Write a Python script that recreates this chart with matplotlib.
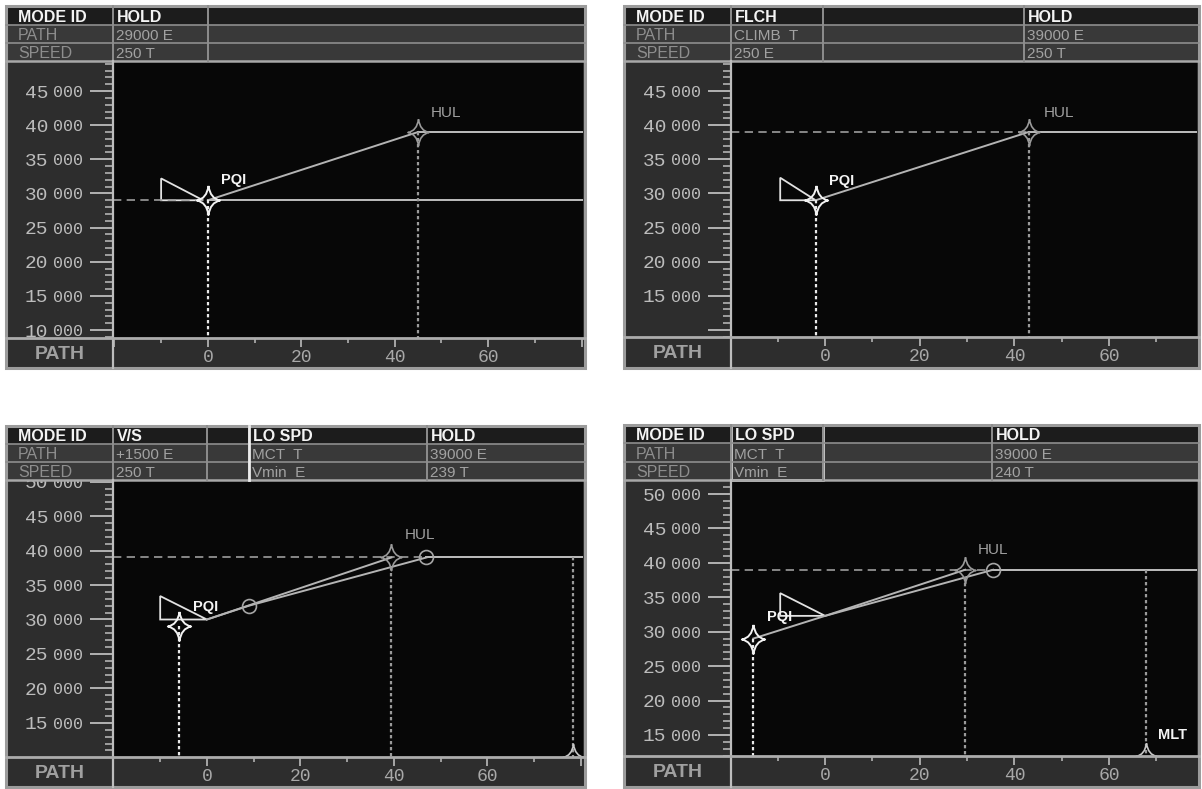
import matplotlib
matplotlib.use("Agg")
import matplotlib.pyplot as plt
from matplotlib.patches import Rectangle
from matplotlib.path import Path
from matplotlib.ticker import MultipleLocator

plt.rcParams["font.family"] = ["Liberation Mono", "DejaVu Sans Mono"]

W, H = 1202, 789

ROW_NAMES = ["MODE ID", "PATH", "SPEED"]
X_MAJOR = [-20, 0, 20, 40, 60, 80]
X_LABELS = ["", "0", "20", "40", "60", ""]
Y_MAJOR = [10000, 15000, 20000, 25000, 30000, 35000, 40000, 45000, 50000]

# top left display: HOLD
A_HEAD = [["HOLD", "29000 E", "250 T"], ["", "", ""]]
A_XLIM = [-20.3, 80.3]
A_YLIM = [8830, 49400]
A_YLAB = [10000, 15000, 20000, 25000, 30000, 35000, 40000, 45000]
A_PQI = [0, 29000]
A_HUL = [45, 39000]
A_WEDGE_X = [-10, -10, -1]
A_WEDGE_Y = [32200, 29000, 29000]
A_PATHS = [[[0, 45], [29000, 39000]]]
A_DASH = [[-1, 29000]]
A_LEVEL = [[0, 29000], [45, 39000]]
A_DROPS = [[0, 29000], [45, 39000]]
A_CIRCLES = [[], []]
A_CUSPS = []
A_TEXT = [["PQI", 2.8, 31900], ["HUL", 47.7, 41800]]

# top right display: FLCH -> HOLD
B_HEAD = [["FLCH", "CLIMB  T", "250 E"], ["", "", ""], ["HOLD", "39000 E", "250 T"]]
B_XLIM = [-19.9, 78.6]
B_YLIM = [8970, 49400]
B_YLAB = [15000, 20000, 25000, 30000, 35000, 40000, 45000, 50000]
B_PQI = [-2, 29000]
B_HUL = [43, 39000]
B_WEDGE_X = [-9.5, -9.5, -2]
B_WEDGE_Y = [32300, 29000, 29000]
B_PATHS = [[[-2, 43], [29000, 39000]]]
B_DASH = [[43, 39000]]
B_LEVEL = [[43, 39000]]
B_DROPS = [[-2, 29000], [43, 39000]]
B_CIRCLES = [[], []]
B_CUSPS = []
B_TEXT = [["PQI", 0.8, 31760], ["HUL", 46.3, 41800]]

# bottom left display: V/S, LO SPD, HOLD
C_HEAD = [["V/S", "+1500 E", "250 T"], ["", "", ""],
          ["LO SPD", "MCT  T", "Vmin  E"], ["HOLD", "39000 E", "239 T"]]
C_XLIM = [-20.1, 80.5]
C_YLIM = [10050, 50240]
C_YLAB = [15000, 20000, 25000, 30000, 35000, 40000, 45000, 50000]
C_PQI = [-6, 29000]
C_HUL = [39.5, 39000]
C_WEDGE_X = [-10, -10, 0]
C_WEDGE_Y = [33400, 30000, 30000]
C_PATHS = [[[0, 39.5], [30000, 39000]], [[0, 9, 47], [30000, 32000, 39000]]]
C_DASH = [[47, 39000]]
C_LEVEL = [[47, 39000]]
C_DROPS = [[-6, 29000], [39.5, 37600], [78.4, 39000]]
C_CIRCLES = [[9, 47], [32000, 39000]]
C_CUSPS = [78.4]
C_TEXT = [["PQI", -3.0, 31750], ["HUL", 42.4, 42200]]

# bottom right display: LO SPD, HOLD
D_HEAD = [["LO SPD", "MCT  T", "Vmin  E"], ["", "", ""], ["HOLD", "39000 E", "240 T"]]
D_XLIM = [-19.9, 78.6]
D_YLIM = [11940, 52040]
D_YLAB = [15000, 20000, 25000, 30000, 35000, 40000, 45000, 50000]
D_PQI = [-15.2, 29000]
D_HUL = [29.6, 39000]
D_WEDGE_X = [-9.5, -9.5, 0]
D_WEDGE_Y = [35600, 32300, 32300]
D_PATHS = [[[-15.2, 0, 29.6], [29000, 32300, 39000]], [[0, 35.5], [32300, 39000]]]
D_DASH = [[35.5, 39000]]
D_LEVEL = [[35.5, 39000]]
D_DROPS = [[-15.2, 29000], [29.6, 37900], [67.9, 39000]]
D_CIRCLES = [[35.5], [39000]]
D_CUSPS = [67.9]
D_TEXT = [["PQI", -12.3, 32200], ["HUL", 32.3, 41900], ["MLT", 70.4, 15000]]

# screen geometry in pixels (left, right, top, bottom)
LAYOUT = [
    dict(box=(6, 585, 6, 368), rows=(25, 43, 61), plot=(113, 338), cols=[113, 208], hl=None),
    dict(box=(624, 1199, 6, 368), rows=(25, 43, 61), plot=(731, 337), cols=[731, 823, 1024], hl=None),
    dict(box=(6, 585, 426, 787), rows=(444, 462, 480), plot=(113, 757), cols=[113, 207, 249, 427], hl="line"),
    dict(box=(624, 1199, 425, 787), rows=(443, 462, 480), plot=(731, 756), cols=[731, 823, 992], hl="box"),
]

PANELS = [
    dict(head=A_HEAD, xlim=A_XLIM, ylim=A_YLIM, ylab=A_YLAB, pqi=A_PQI, hul=A_HUL,
         wx=A_WEDGE_X, wy=A_WEDGE_Y, paths=A_PATHS, dash=A_DASH, level=A_LEVEL,
         drops=A_DROPS, circ=A_CIRCLES, cusps=A_CUSPS, text=A_TEXT),
    dict(head=B_HEAD, xlim=B_XLIM, ylim=B_YLIM, ylab=B_YLAB, pqi=B_PQI, hul=B_HUL,
         wx=B_WEDGE_X, wy=B_WEDGE_Y, paths=B_PATHS, dash=B_DASH, level=B_LEVEL,
         drops=B_DROPS, circ=B_CIRCLES, cusps=B_CUSPS, text=B_TEXT),
    dict(head=C_HEAD, xlim=C_XLIM, ylim=C_YLIM, ylab=C_YLAB, pqi=C_PQI, hul=C_HUL,
         wx=C_WEDGE_X, wy=C_WEDGE_Y, paths=C_PATHS, dash=C_DASH, level=C_LEVEL,
         drops=C_DROPS, circ=C_CIRCLES, cusps=C_CUSPS, text=C_TEXT),
    dict(head=D_HEAD, xlim=D_XLIM, ylim=D_YLIM, ylab=D_YLAB, pqi=D_PQI, hul=D_HUL,
         wx=D_WEDGE_X, wy=D_WEDGE_Y, paths=D_PATHS, dash=D_DASH, level=D_LEVEL,
         drops=D_DROPS, circ=D_CIRCLES, cusps=D_CUSPS, text=D_TEXT),
]

SANS = "Liberation Sans"
GRID = "#8e8e8e"

# four pointed waypoint star
STAR = Path([(0, 1), (0.12, 0.12), (0.8, 0), (0.12, -0.12), (0, -1),
             (-0.12, -0.12), (-0.8, 0), (-0.12, 0.12), (0, 1)],
            [Path.MOVETO] + [Path.CURVE3] * 8)


def draw_plot(fig, lay, d):
    L, R, T, B = lay["box"]
    r3 = lay["rows"][2]
    pl, pb = lay["plot"]
    ax = fig.add_axes([pl / W, 1 - pb / H, (R - 2 - pl) / W, (pb - r3) / H], zorder=1)
    ax.set_facecolor("#070707")
    for s in ax.spines.values():
        s.set_visible(False)

    ax.set_xticks(X_MAJOR, labels=X_LABELS)
    ax.xaxis.set_minor_locator(MultipleLocator(10))
    ax.tick_params(axis="x", which="major", direction="out", length=6.5, width=1.3,
                   color="#b0b0b0", pad=1.5, labelsize=13, labelcolor="#a8a8a8")
    ax.tick_params(axis="x", which="minor", direction="out", length=3.6, width=1.2, color="#b0b0b0")

    ax.set_yticks(Y_MAJOR, labels=[str(v // 1000) if v in d["ylab"] else "" for v in Y_MAJOR])
    ax.yaxis.set_minor_locator(MultipleLocator(1000))
    ax.tick_params(axis="y", which="major", direction="out", length=16.5, width=1.3,
                   color="#bdbdbd", pad=30, labelsize=14, labelcolor="#bcbcbc")
    ax.tick_params(axis="y", which="minor", direction="out", length=5.8, width=1.1, color="#bdbdbd")

    # the smaller "000" half of the altitude labels
    ax2 = ax.twinx()
    ax2.yaxis.set_ticks_position("left")
    ax2.set_yticks(Y_MAJOR, labels=["000" if v in d["ylab"] else "" for v in Y_MAJOR])
    ax2.yaxis.set_minor_locator(plt.NullLocator())
    ax2.tick_params(axis="y", length=0, pad=21.5, labelsize=12, labelcolor="#bcbcbc",
                    labelleft=True, labelright=False)
    for s in ax2.spines.values():
        s.set_visible(False)

    # limits after the ticks, so the tick lists do not widen them
    ax.set_xlim(d["xlim"])
    ax.set_ylim(d["ylim"])
    ax2.set_ylim(d["ylim"])

    x0, x1 = d["xlim"]
    y0 = d["ylim"][0]
    for xe, y in d["dash"]:
        ax.plot([x0, xe], [y, y], color="#9c9c9c", lw=1.2, ls=(0, (5, 3.2)))
    for xs, y in d["level"]:
        ax.plot([xs, x1], [y, y], color="#bdbdbd", lw=1.4)
    for xs, ys in d["paths"]:
        ax.plot(xs, ys, color="#b4b4b4", lw=1.4)
    ax.fill(d["wx"], d["wy"], fill=False, edgecolor="#e2e2e2", lw=1.3)
    for i, (x, y) in enumerate(d["drops"]):
        c = "#e8e8e8" if i == 0 else "#9a9a9a"
        ax.plot([x, x], [y, y0], color=c, lw=1.6, ls=(0, (1.5, 1.2)))
    if d["circ"][0]:
        ax.plot(d["circ"][0], d["circ"][1], "o", mfc="none", mec="#a6a6a6", ms=10, mew=1.2)
    ax.plot(*d["hul"], marker=STAR, ms=19, mfc="none", mec="#9a9a9a", mew=1.2)
    ax.plot(*d["pqi"], marker=STAR, ms=21, mfc="none", mec="#f2f2f2", mew=1.4)
    for x in d["cusps"]:
        ax.plot(x, y0, marker=STAR, ms=19, mfc="none", mec="#c8c8c8", mew=1.2)
    for name, x, y in d["text"]:
        if name == "HUL":
            ax.text(x, y, name, color="#a0a0a0", fontsize=11, family=SANS, va="center")
        else:
            ax.text(x, y, name, color="#f4f4f4", fontsize=10.5, fontweight="bold",
                    family=SANS, va="center")
    ax.set_xlim(d["xlim"])
    ax.set_ylim(d["ylim"])


def draw_frame(bg, ov, lay, d):
    L, R, T, B = lay["box"]
    r1, r2, r3 = lay["rows"]
    pl, pb = lay["plot"]
    bg.add_patch(Rectangle((L, T), R - L, B - T, facecolor="#2d2d2d", edgecolor="none"))

    ov.add_patch(Rectangle((L, T), R - L, r1 - T, facecolor="#1c1c1c", edgecolor="none"))
    ov.add_patch(Rectangle((L, r1), R - L, r3 - r1, facecolor="#393939", edgecolor="none"))
    ov.plot([L, R], [r1, r1], color=GRID, lw=1.2)
    ov.plot([L, R], [r2, r2], color=GRID, lw=1.2)
    ov.plot([L, R], [r3, r3], color="#a8a8a8", lw=1.8)
    for c in lay["cols"]:
        ov.plot([c, c], [T, r3], color=GRID, lw=1.4)
    ov.plot([pl, pl], [r3, B], color="#bdbdbd", lw=1.6)
    ov.plot([L, R], [pb, pb], color="#acacac", lw=2)
    if lay["hl"] == "line":
        ov.plot([lay["cols"][2]] * 2, [T, r3], color="#ececec", lw=2)
    elif lay["hl"] == "box":
        ov.add_patch(Rectangle((lay["cols"][0], T), lay["cols"][1] - lay["cols"][0], r3 - T,
                               fill=False, edgecolor="#ececec", lw=1.8))
    ov.add_patch(Rectangle((L, T), R - L, B - T, fill=False, edgecolor="#9c9c9c", lw=2.2))

    bottoms = [r1, r2, r3]
    for i, name in enumerate(ROW_NAMES):
        if i == 0:
            ov.text(L + 12, bottoms[i] - 3, name, color="#f4f4f4", fontsize=11.5,
                    fontweight="bold", family=SANS, va="baseline")
        else:
            ov.text(L + 12, bottoms[i] - 3, name, color="#8e8e8e", fontsize=11.5,
                    family=SANS, va="baseline")
    for c, col in zip(lay["cols"], d["head"]):
        for i, val in enumerate(col):
            if i == 0:
                ov.text(c + 4, bottoms[i] - 3, val, color="#f4f4f4", fontsize=11.5,
                        fontweight="bold", family=SANS, va="baseline")
            else:
                ov.text(c + 3, bottoms[i] - 3, val, color="#a2a2a2", fontsize=11,
                        family=SANS, va="baseline")
    ov.text((L + pl) / 2, (pb + B) / 2 + 1, "PATH", color="#a0a0a0", fontsize=14,
            fontweight="bold", family=SANS, ha="center", va="center")


def main():
    fig = plt.figure(figsize=(W / 100, H / 100), dpi=100, facecolor="white")
    bg = fig.add_axes([0, 0, 1, 1], zorder=0)
    ov = fig.add_axes([0, 0, 1, 1], zorder=3)
    for a in (bg, ov):
        a.set_xlim(0, W)
        a.set_ylim(H, 0)
        a.set_axis_off()
    for lay, d in zip(LAYOUT, PANELS):
        draw_frame(bg, ov, lay, d)
        draw_plot(fig, lay, d)
    fig.savefig("out.png", dpi=100, facecolor="white")


if __name__ == "__main__":
    main()
